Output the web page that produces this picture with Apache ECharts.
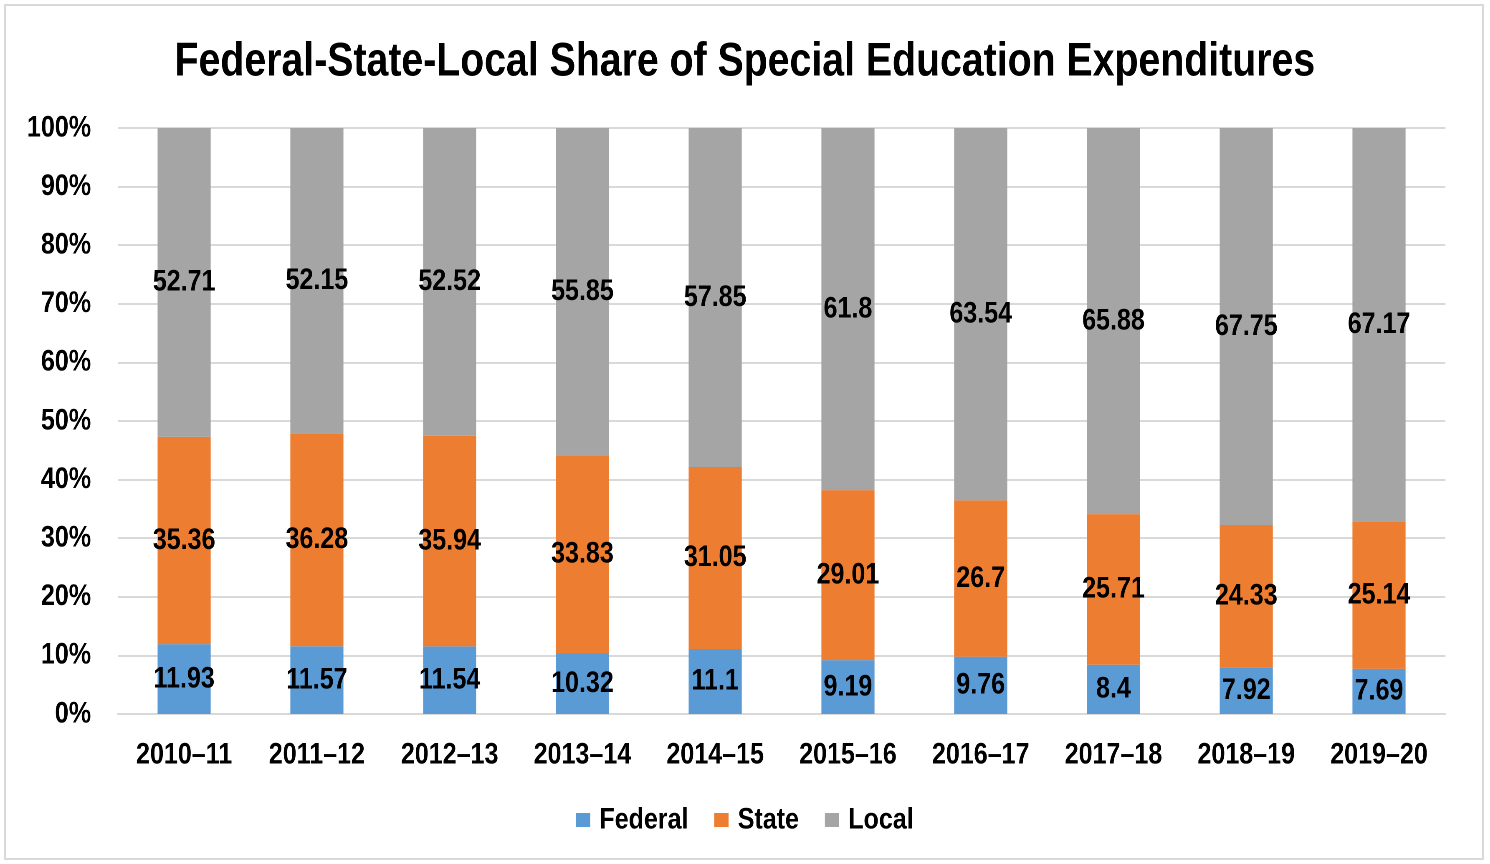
<!DOCTYPE html>
<html>
<head>
<meta charset="utf-8">
<script src="https://cdn.jsdelivr.net/npm/echarts@6/dist/echarts.min.js"></script>
<style>
html,body{margin:0;padding:0;background:#fff;overflow:hidden;}
#main{width:1784px;height:864px;transform:scaleX(0.835);transform-origin:0 0;}
</style>
</head>
<body>
<div id="main"></div>
<script>
const categories = ['2010–11','2011–12','2012–13','2013–14','2014–15','2015–16','2016–17','2017–18','2018–19','2019–20'];
const federal = [11.93, 11.57, 11.54, 10.32, 11.1, 9.19, 9.76, 8.4, 7.92, 7.69];
const state = [35.36, 36.28, 35.94, 33.83, 31.05, 29.01, 26.7, 25.71, 24.33, 25.14];
const local = [52.71, 52.15, 52.52, 55.85, 57.85, 61.8, 63.54, 65.88, 67.75, 67.17];
const yTicks = [0,10,20,30,40,50,60,70,80,90,100];

const FONT = '"Liberation Sans Narrow", "Liberation Sans", Arial, sans-serif';
const chart = echarts.init(document.getElementById('main'), null, {renderer:'canvas', devicePixelRatio:2});
const lbl = {show:true, position:'inside', color:'#000', fontFamily:FONT, fontWeight:'bold', fontSize:30};
function mk(name, data, color){
  return {name, type:'bar', stack:'total', data, barWidth:'40%',
    itemStyle:{color}, label:lbl, emphasis:{disabled:true}};
}
chart.setOption({
  animation:false,
  backgroundColor:'#fff',
  graphic:[{type:'rect', shape:{x:6,y:5,width:1770,height:854}, style:{fill:'none', stroke:'#d9d9d9', lineWidth:2}}],
  title:{text:'Federal-State-Local Share of Special Education Expenditures', left:'center', top:34,
    textStyle:{fontFamily:FONT, fontWeight:'bold', fontSize:47, color:'#000'}},
  grid:{left:141, right:53, top:128, bottom:150, containLabel:false},
  legend:{bottom:24, left:'center', itemWidth:17, itemHeight:14, itemGap:31, icon:'rect',
    textStyle:{fontFamily:FONT, fontWeight:'bold', fontSize:30, color:'#000', padding:[0,0,0,6]},
    data:['Federal','State','Local']},
  xAxis:{type:'category', data:categories,
    axisLine:{lineStyle:{color:'#d9d9d9', width:2}}, axisTick:{show:false},
    axisLabel:{interval:0, fontFamily:FONT, fontWeight:'bold', fontSize:30, color:'#000', margin:26}},
  yAxis:{type:'value', min:yTicks[0], max:yTicks[yTicks.length-1], interval:10,
    axisLine:{show:false}, axisTick:{show:false},
    splitLine:{lineStyle:{color:'#d9d9d9', width:2}},
    axisLabel:{formatter:'{value}%', fontFamily:FONT, fontWeight:'bold', fontSize:30, color:'#000', margin:32}},
  series:[mk('Federal', federal, '#5b9bd5'), mk('State', state, '#ed7d31'), mk('Local', local, '#a5a5a5')]
});
</script>
</body>
</html>
